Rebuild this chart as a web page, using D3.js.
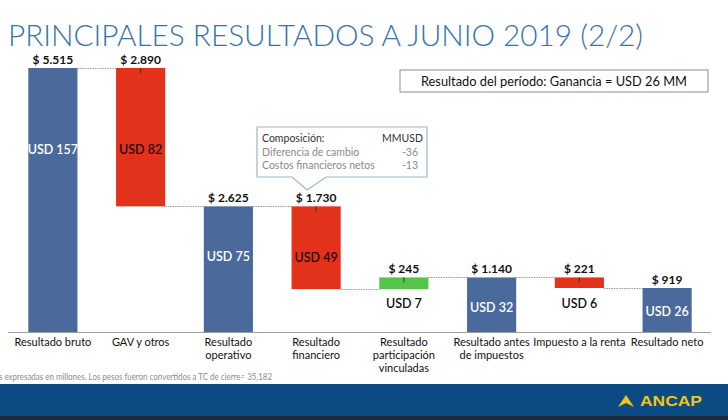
<!DOCTYPE html>
<html><head><meta charset="utf-8">
<script src="https://cdn.jsdelivr.net/npm/d3@7"></script>
<style>
html,body{margin:0;padding:0;background:#fff;}
svg{display:block;font-family:Lato,"Open Sans",sans-serif;}
</style></head>
<body>
<script>
// ---------- data ----------
const categories = ["Resultado bruto", "GAV y otros", "Resultado\noperativo", "Resultado\nfinanciero",
  "Resultado\nparticipación\nvinculadas", "Resultado antes\nde impuestos", "Impuesto a la renta", "Resultado neto"];
const barTypes = ["total", "delta", "total", "delta", "delta", "total", "delta", "total"];
const pesoValues = [5515, -2890, 2625, -1730, 245, 1140, -221, 919];   // millones de $
const usdValues = [157, 82, 75, 49, 7, 32, 6, 26];                      // MMUSD
const usdLabelAt = [3800, 3800, 1570, 1550, 600, 500, 600, 420];        // label anchor, in $ units
const compNames = ["Diferencia de cambio", "Costos financieros netos"];
const compValues = [-36, -13];
const resultText = "Resultado del período: Ganancia = USD 26 MM";
const titleText = "PRINCIPALES RESULTADOS A JUNIO 2019 (2/2)";
const footnote = "s expresadas en millones. Los pesos fueron convertidos a TC de cierre= 35,182";

// ---------- layout ----------
const W = 728, H = 420;
const svg = d3.select("body").append("svg").attr("width", W).attr("height", H);
const axisY = 332, topY = 68;

const locale = d3.formatLocale({decimal: ",", thousands: ".", grouping: [3], currency: ["$ ", ""]});
const fmt = locale.format("$,d");

// waterfall
let run = 0;
const bars = pesoValues.map((v, i) => {
  let y0, y1, color;
  if (barTypes[i] === "total") { y0 = 0; y1 = v; run = v; color = "#4a6a9b"; }
  else { y0 = run; y1 = run + v; run = y1; color = v < 0 ? "#e2321b" : "#56c44c"; }
  return {cat: categories[i], type: barTypes[i], v, lo: Math.min(y0, y1), hi: Math.max(y0, y1), end: run, color, usd: usdValues[i], at: usdLabelAt[i], i};
});

const x = d3.scaleBand().domain(categories).range([9, 711]).paddingInner(0.44).paddingOuter(0.22);
const y = d3.scaleLinear().domain([0, d3.max(bars, d => d.hi)]).range([axisY, topY]);

// title
svg.append("text").attr("x", 8).attr("y", 46).attr("font-size", 28.5).attr("font-weight", 300)
  .attr("fill", "#3573ae").attr("textLength", 635).attr("lengthAdjust", "spacingAndGlyphs").text(titleText);

// result box
svg.append("rect").attr("x", 400).attr("y", 70).attr("width", 308).attr("height", 22)
  .attr("fill", "#fff").attr("stroke", "#8c8c8c").attr("stroke-width", 1);
svg.append("text").attr("x", 554).attr("y", 86).attr("text-anchor", "middle").attr("font-size", 13.5)
  .attr("fill", "#111").attr("textLength", 266).attr("lengthAdjust", "spacingAndGlyphs").text(resultText);

// connectors
const conn = svg.append("g");
bars.slice(0, -1).forEach((d, i) => {
  const nxt = bars[i + 1];
  conn.append("line").attr("x1", x(d.cat) + x.bandwidth()).attr("x2", x(nxt.cat))
    .attr("y1", Math.round(y(d.end)) + 0.5).attr("y2", Math.round(y(d.end)) + 0.5)
    .attr("stroke", "#9a9a9a").attr("stroke-width", 1).attr("stroke-dasharray", "1.5,1");
});

// bars
svg.append("g").selectAll("rect").data(bars).join("rect")
  .attr("x", d => x(d.cat)).attr("width", x.bandwidth())
  .attr("y", d => y(d.hi)).attr("height", d => y(d.lo) - y(d.hi))
  .attr("fill", d => d.color);

// small ticks on delta bars
svg.append("g").selectAll("line").data(bars.filter(d => d.type === "delta")).join("line")
  .attr("x1", d => x(d.cat) + x.bandwidth() / 2).attr("x2", d => x(d.cat) + x.bandwidth() / 2)
  .attr("y1", d => y(d.hi)).attr("y2", d => y(d.hi) + 5)
  .attr("stroke", "#333").attr("stroke-width", 1);

// axis line
svg.append("line").attr("x1", 8).attr("x2", 711).attr("y1", axisY + 0.5).attr("y2", axisY + 0.5)
  .attr("stroke", "#9c9c9c").attr("stroke-width", 1);

// peso labels
svg.append("g").selectAll("text").data(bars).join("text")
  .attr("x", d => x(d.cat) + x.bandwidth() / 2).attr("y", d => y(d.hi) - 4)
  .attr("text-anchor", "middle").attr("font-size", 12).attr("font-weight", 700).attr("fill", "#111")
  .text(d => fmt(Math.abs(d.v)));

// usd labels
svg.append("g").selectAll("text").data(bars).join("text")
  .attr("x", d => x(d.cat) + x.bandwidth() / 2).attr("y", d => y(d.at))
  .attr("dy", "0.35em").attr("text-anchor", "middle").attr("font-size", 12.5).attr("font-weight", 600)
  .attr("fill", d => {
    const inside = d.at >= d.lo && d.at <= d.hi;
    if (!inside) return "#111";
    return d.type === "total" ? "#fff" : "#2a0c06";
  })
  .text(d => "USD " + d.usd);

// category labels
const cl = svg.append("g").selectAll("text").data(bars).join("text")
  .attr("x", d => x(d.cat) + x.bandwidth() / 2).attr("y", 346)
  .attr("text-anchor", "middle").attr("font-size", 11).attr("fill", "#111");
cl.each(function(d) {
  d.cat.split("\n").forEach((s, k) => {
    d3.select(this).append("tspan").attr("x", x(d.cat) + x.bandwidth() / 2).attr("dy", k === 0 ? 0 : 13).text(s);
  });
});

// callout
const cx0 = 257, cx1 = 427, cy0 = 127, cy1 = 177;
const tipX = x(categories[3]) + x.bandwidth() / 2 - 9;
svg.append("path")
  .attr("d", `M${cx0},${cy0}H${cx1}V${cy1}H${tipX + 19}L${tipX},190L${tipX - 15},${cy1}H${cx0}Z`)
  .attr("fill", "#fff").attr("stroke", "#9db5cb").attr("stroke-width", 1.2);
svg.append("text").attr("x", 262).attr("y", 142).attr("font-size", 10.5).attr("fill", "#333").text("Composición:");
svg.append("text").attr("x", 423).attr("y", 142).attr("text-anchor", "end").attr("font-size", 10.5).attr("fill", "#333").text("MMUSD");
compNames.forEach((n, k) => {
  svg.append("text").attr("x", 262).attr("y", 156 + k * 13).attr("font-size", 10.5).attr("fill", "#8a8a8a").text(n);
  svg.append("text").attr("x", 410).attr("y", 156 + k * 13).attr("text-anchor", "middle").attr("font-size", 10.5).attr("fill", "#8a8a8a").text(compValues[k]);
});

// footnote
svg.append("text").attr("x", -1).attr("y", 380).attr("font-size", 8.5).attr("fill", "#8c8c8c")
  .attr("textLength", 273).attr("lengthAdjust", "spacingAndGlyphs").text(footnote);

// footer band
svg.append("rect").attr("x", 0).attr("y", 384).attr("width", W).attr("height", 36).attr("fill", "#0c4a83");
svg.append("rect").attr("x", 0).attr("y", 416).attr("width", W).attr("height", 4).attr("fill", "#1a2b3e");
svg.append("path").attr("d", "M626,395L634,407L626,403L618,407Z").attr("fill", "#f2c41a");
svg.append("text").attr("x", 640).attr("y", 406).attr("font-family", "'Liberation Sans',Arial,sans-serif")
  .attr("font-size", 14).attr("font-weight", 700).attr("fill", "#f2c41a")
  .attr("textLength", 62).attr("lengthAdjust", "spacingAndGlyphs").text("ANCAP");
</script>
</body></html>
